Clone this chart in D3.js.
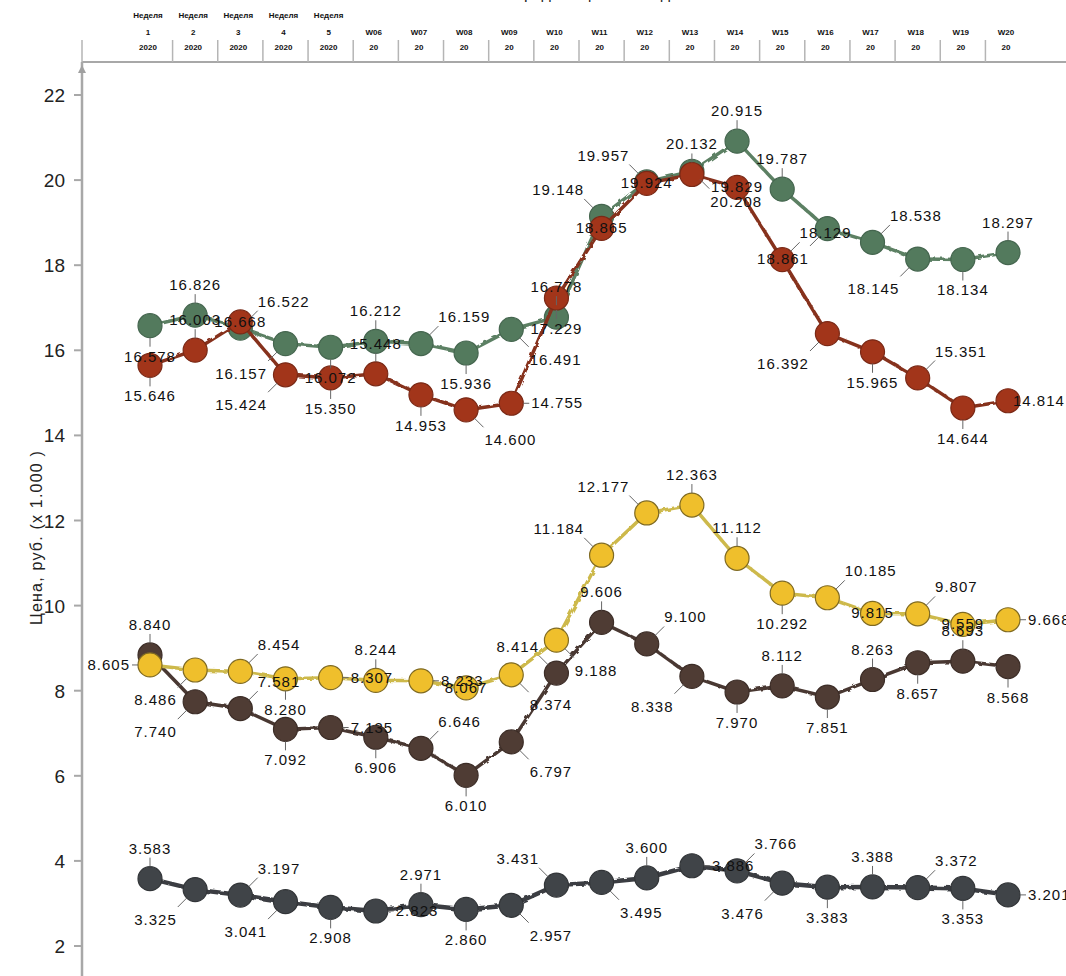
<!DOCTYPE html>
<html>
<head>
<meta charset="utf-8">
<title>Цена, руб.</title>
<style>
  body { margin: 0; background: #fff; }
  svg { display: block; font-family: "Liberation Sans", Arial, sans-serif; }
</style>
</head>
<body>
<main></main>
<script src="https://d3js.org/d3.v7.min.js"></script>
<script>
  // week categories (top axis)
  const weekTop = ["Неделя", "Неделя", "Неделя", "Неделя", "Неделя", "", "", "", "", "", "", "", "", "", "", "", "", "", "", ""];
  const weekMid = ["1", "2", "3", "4", "5", "W06", "W07", "W08", "W09", "W10", "W11", "W12", "W13", "W14", "W15", "W16", "W17", "W18", "W19", "W20"];
  const weekBot = ["2020", "2020", "2020", "2020", "2020", "20", "20", "20", "20", "20", "20", "20", "20", "20", "20", "20", "20", "20", "20", "20"];

  const yTicks = [2, 4, 6, 8, 10, 12, 14, 16, 18, 20, 22];

  // prices, thousand rub.
  const green  = [16.578, 16.826, 16.522, 16.157, 16.072, 16.212, 16.159, 15.936, 16.491, 16.778, 19.148, 19.957, 20.208, 20.915, 19.787, 18.861, 18.538, 18.145, 18.134, 18.297];
  const red    = [15.646, 16.003, 16.668, 15.424, 15.350, 15.448, 14.953, 14.600, 14.755, 17.229, 18.865, 19.924, 20.132, 19.829, 18.129, 16.392, 15.965, 15.351, 14.644, 14.814];
  const dark   = [8.840, 7.740, 7.581, 7.092, 7.135, 6.906, 6.646, 6.010, 6.797, 8.414, 9.606, 9.100, 8.338, 7.970, 8.112, 7.851, 8.263, 8.657, 8.693, 8.568];
  const yellow = [8.605, 8.486, 8.454, 8.280, 8.307, 8.244, 8.233, 8.067, 8.374, 9.188, 11.184, 12.177, 12.363, 11.112, 10.292, 10.185, 9.815, 9.807, 9.559, 9.668];
  const gray   = [3.583, 3.325, 3.197, 3.041, 2.908, 2.823, 2.971, 2.860, 2.957, 3.431, 3.495, 3.600, 3.886, 3.766, 3.476, 3.383, 3.388, 3.372, 3.353, 3.201];

  // where each value label sits relative to its marker
  const greenDir  = ["S","N","NE","SW","S","N","NE","S","SE","N","NW","NW","SE","N","N","SW","NE","SW","S","N"];
  const redDir    = ["S","N","C","SW","S","N","S","SE","E","S","C","C","N","C","NE","SW","S","NE","S","e"];
  const darkDir   = ["N","SW","NE","S","E","S","NE","S","SE","NW","N","NE","SW","S","N","S","N","S","N","S"];
  const yellowDir = ["W","SW","NE","S","E","N","E","C","SE","SE","NW","NW","N","N","S","NE","C","NE","C","E"];
  const grayDir   = ["N","SW","NE","SW","S","E","N","S","SE","NW","SE","N","E","NE","SW","S","N","NE","S","E"];

  const series = [
    { values: green,  dirs: greenDir,  line: "#5c8064", fill: "#537a5d", stroke: "#45664f", lw: 3.5 },
    { values: red,    dirs: redDir,    line: "#86301e", fill: "#a2351a", stroke: "#7a2916", lw: 3.5 },
    { values: dark,   dirs: darkDir,   line: "#4a3933", fill: "#4f3c34", stroke: "#3c2d27", lw: 3.5 },
    { values: yellow, dirs: yellowDir, line: "#cdb94c", fill: "#efbf2c", stroke: "#7f6a22", lw: 3.5 },
    { values: gray,   dirs: grayDir,   line: "#3b3e42", fill: "#404448", stroke: "#323538", lw: 4.5 }
  ];

  const width = 1066, height = 976;
  const axisX = 82, axisTop = 62;
  const r = 12;

  const x = d3.scalePoint().domain(d3.range(weekMid.length)).range([150, 1008]);
  const y = d3.scaleLinear().domain([2, 22]).range([946, 95]);
  const step = x.step();
  const fmt = d3.format(".3f");

  const svg = d3.select("main").append("svg")
    .attr("width", width)
    .attr("height", height)
    .attr("viewBox", `0 0 ${width} ${height}`);

  const defs = svg.append("defs");
  const wob = defs.append("filter").attr("id", "wobble")
    .attr("x", "-5%").attr("y", "-5%").attr("width", "110%").attr("height", "110%");
  wob.append("feTurbulence").attr("type", "fractalNoise").attr("baseFrequency", 0.18).attr("numOctaves", 1).attr("seed", 3).attr("result", "n");
  wob.append("feDisplacementMap").attr("in", "SourceGraphic").attr("in2", "n").attr("scale", 4);

  // title, mostly above the visible area
  svg.append("text")
    .attr("x", 610).attr("y", -1)
    .attr("text-anchor", "middle")
    .style("font-size", "16px")
    .attr("fill", "#222")
    .text("Средняя цена по неделям");

  // top category axis
  const topAxis = svg.append("g").attr("fill", "#111").style("font-size", "8px").style("font-weight", "bold")
    .attr("text-anchor", "middle");
  topAxis.append("line")
    .attr("x1", axisX).attr("x2", width).attr("y1", axisTop).attr("y2", axisTop)
    .attr("stroke", "#a8a8a8").attr("stroke-width", 2);
  const bounds = [axisX].concat(d3.range(1, weekMid.length).map(i => x(i) - step / 2));
  topAxis.selectAll("line.sep").data(bounds).join("line").attr("class", "sep")
    .attr("x1", d => d).attr("x2", d => d).attr("y1", 40).attr("y2", axisTop)
    .attr("stroke", "#b5b5b5").attr("stroke-width", 1.5);
  topAxis.selectAll("text.t1").data(weekTop).join("text").attr("class", "t1")
    .attr("x", (d, i) => x(i) - 2).attr("y", 18).text(d => d);
  topAxis.selectAll("text.t2").data(weekMid).join("text").attr("class", "t2")
    .attr("x", (d, i) => x(i) - 2).attr("y", 35).text(d => d);
  topAxis.selectAll("text.t3").data(weekBot).join("text").attr("class", "t3")
    .attr("x", (d, i) => x(i) - 2).attr("y", 50).text(d => d);

  // y axis
  const ax = svg.append("g");
  ax.append("line")
    .attr("x1", axisX).attr("x2", axisX).attr("y1", axisTop).attr("y2", height)
    .attr("stroke", "#a8a8a8").attr("stroke-width", 2.5);
  ax.append("path")
    .attr("d", `M${axisX - 4},${axisTop + 11}L${axisX},${axisTop + 3}L${axisX + 4},${axisTop + 11}Z`)
    .attr("fill", "#a0a0a0");
  ax.selectAll("line.tick").data(yTicks).join("line").attr("class", "tick")
    .attr("x1", axisX - 8).attr("x2", axisX).attr("y1", d => y(d)).attr("y2", d => y(d))
    .attr("stroke", "#a8a8a8").attr("stroke-width", 2);
  ax.selectAll("text").data(yTicks).join("text")
    .attr("x", axisX - 17).attr("y", d => y(d) + 7)
    .attr("text-anchor", "end")
    .style("font-size", "19px")
    .attr("fill", "#222")
    .text(d => d);
  svg.append("text")
    .attr("transform", `translate(42,${y(11.6)}) rotate(-90)`)
    .attr("text-anchor", "middle")
    .style("font-size", "16px")
    .style("letter-spacing", "1.2px")
    .attr("fill", "#222")
    .text("Цена, руб. (x 1.000 )");

  // lines and markers
  const line = d3.line().x((d, i) => x(i)).y(d => y(d));
  const plot = svg.append("g");
  series.forEach(s => {
    const g = plot.append("g");
    g.append("path")
      .attr("d", line(s.values))
      .attr("fill", "none")
      .attr("stroke", s.line)
      .attr("stroke-width", s.lw)
      .attr("filter", "url(#wobble)");
    g.selectAll("circle").data(s.values).join("circle")
      .attr("cx", (d, i) => x(i))
      .attr("cy", d => y(d))
      .attr("r", r)
      .attr("fill", s.fill)
      .attr("stroke", s.stroke)
      .attr("stroke-width", 1.2);
  });

  // value labels with leader lines
  const k = r * 0.7;
  function place(dir, px, py) {
    switch (dir) {
      case "N":  return { l: [px, py - r, px, py - r - 9], tx: px, ty: py - r - 13, a: "middle" };
      case "S":  return { l: [px, py + r, px, py + r + 9], tx: px, ty: py + r + 24, a: "middle" };
      case "E":  return { l: [px + r, py, px + r + 6, py], tx: px + r + 8, ty: py + 5, a: "start" };
      case "e":  return { l: null, tx: px + 5, ty: py + 5, a: "start" };
      case "W":  return { l: [px - r, py, px - r - 6, py], tx: px - r - 8, ty: py + 5, a: "end" };
      case "NE": return { l: [px + k, py - k, px + k + 9, py - k - 9], tx: px + k + 9, ty: py - k - 13, a: "start" };
      case "NW": return { l: [px - k, py - k, px - k - 9, py - k - 9], tx: px - k - 9, ty: py - k - 13, a: "end" };
      case "SE": return { l: [px + k, py + k, px + k + 9, py + k + 9], tx: px + k + 10, ty: py + k + 27, a: "start" };
      case "SW": return { l: [px - k, py + k, px - k - 9, py + k + 9], tx: px - k - 10, ty: py + k + 27, a: "end" };
      default:   return { l: null, tx: px, ty: py + 5, a: "middle" };
    }
  }

  const labels = svg.append("g").style("font-size", "15px").style("letter-spacing", "1px").attr("fill", "#111");
  series.forEach(s => {
    s.values.forEach((v, i) => {
      const p = place(s.dirs[i], x(i), y(v));
      if (p.l) {
        labels.append("line")
          .attr("x1", p.l[0]).attr("y1", p.l[1]).attr("x2", p.l[2]).attr("y2", p.l[3])
          .attr("stroke", "#666").attr("stroke-width", 1);
      }
      labels.append("text")
        .attr("x", p.tx).attr("y", p.ty)
        .attr("text-anchor", p.a)
        .text(fmt(v));
    });
  });
</script>
</body>
</html>
